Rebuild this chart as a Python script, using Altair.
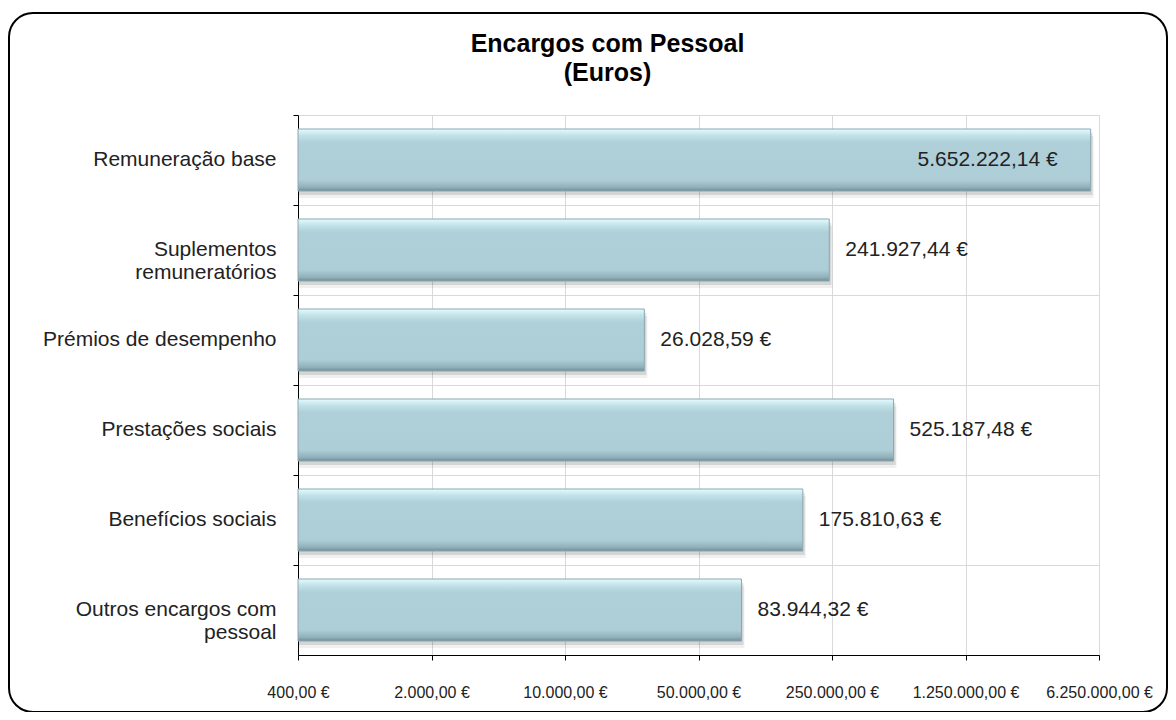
import altair as alt
import pandas as pd

# ---- data ----
categories = [
    "Remuneração base",
    "Suplementos\nremuneratórios",
    "Prémios de desempenho",
    "Prestações sociais",
    "Benefícios sociais",
    "Outros encargos com\npessoal",
]
values = [5652222.14, 241927.44, 26028.59, 525187.48, 175810.63, 83944.32]
tick_values = [400, 2000, 10000, 50000, 250000, 1250000, 6250000]
inside_threshold = 1000000  # labels of bars above this sit inside the bar


def pt_euro(v):
    s = f"{v:,.2f}".replace(",", "#").replace(".", ",").replace("#", ".")
    return s + " €"


df = pd.DataFrame({
    "cat": categories,
    "value": values,
    "label": [pt_euro(v) for v in values],
})

# axis label expression built from the tick list
expr = "''"
for t in reversed(tick_values):
    expr = f"datum.value == {t} ? '{pt_euro(t)}' : " + expr

FONT = "Liberation Sans"
W, H = 801, 540
BAR = 62

x_enc = alt.X(
    "value:Q",
    scale=alt.Scale(type="log", base=5, domain=[tick_values[0], tick_values[-1]], nice=False),
    axis=alt.Axis(
        values=tick_values,
        labelExpr=expr,
        title=None,
        grid=True,
        gridColor="#d9d9d9",
        domainColor="#000000",
        tickColor="#000000",
        tickSize=5,
        labelFontSize=16,
        labelFont=FONT,
        labelColor="#222222",
        labelPadding=24,
        labelFlush=False,
    ),
)
x2_enc = alt.datum(tick_values[0])
y_enc = alt.Y(
    "cat:N",
    sort=categories,
    scale=alt.Scale(paddingInner=0, paddingOuter=0),
    axis=alt.Axis(
        title=None,
        bandPosition=0,
        labelExpr="split(datum.label, '\\n')",
        grid=True,
        gridColor="#d9d9d9",
        domainColor="#000000",
        tickColor="#000000",
        tickSize=5,
        labelFontSize=21,
        labelFont=FONT,
        labelColor="#222222",
        labelPadding=17,
        labelLineHeight=23,
        labelBaseline="middle",
        labelLimit=400,
    ),
)

base = alt.Chart(df)

shadow1 = base.mark_bar(size=BAR, color="#000000", opacity=0.06, yOffset=7, xOffset=3).encode(
    x=x_enc, x2=x2_enc, y=y_enc)
shadow2 = base.mark_bar(size=BAR, color="#000000", opacity=0.11, yOffset=4, xOffset=2).encode(
    x=x_enc, x2=x2_enc, y=y_enc)

grad = alt.Gradient(
    gradient="linear",
    x1=0, x2=0, y1=0, y2=1,
    stops=[
        alt.GradientStop(color="#e4fcff", offset=0.0),
        alt.GradientStop(color="#c3e3ea", offset=0.10),
        alt.GradientStop(color="#afcfd9", offset=0.22),
        alt.GradientStop(color="#adcdd7", offset=0.82),
        alt.GradientStop(color="#90b0ba", offset=0.94),
        alt.GradientStop(color="#6f8d96", offset=1.0),
    ],
)
bars = base.mark_bar(size=BAR, color=grad, stroke="#8aa8b1", strokeWidth=1).encode(
    x=x_enc, x2=x2_enc, y=y_enc)

text_out = base.transform_filter(f"datum.value < {inside_threshold}").mark_text(
    align="left", baseline="middle", dx=16, fontSize=21, font=FONT, color="#222222"
).encode(x=x_enc, y=y_enc, text="label:N")
text_in = base.transform_filter(f"datum.value >= {inside_threshold}").mark_text(
    align="right", baseline="middle", dx=-33, fontSize=21, font=FONT, color="#222222"
).encode(x=x_enc, y=y_enc, text="label:N")

border = alt.Chart(alt.Data(values=[{}])).mark_rect(
    fill="transparent", stroke="#000000", strokeWidth=2, cornerRadius=24
).encode(
    x=alt.value(-289), x2=alt.value(869), y=alt.value(-102), y2=alt.value(597)
)

chart = alt.layer(border, shadow1, shadow2, bars, text_out, text_in).properties(
    width=W,
    height=H,
    padding={"left": 290, "top": 107, "right": 69, "bottom": 57},
    autosize=alt.AutoSizeParams(type="none"),
    title=alt.TitleParams(
        text=["Encargos com Pessoal", "(Euros)"],
        fontSize=25,
        font=FONT,
        fontWeight="bold",
        color="#000000",
        anchor="middle",
        dx=-91,
        dy=74,
        offset=0,
        lineHeight=29,
    ),
).configure_view(strokeOpacity=0).configure(background="white")

chart.save("out.html", embed_options={"renderer": "svg", "actions": False})
